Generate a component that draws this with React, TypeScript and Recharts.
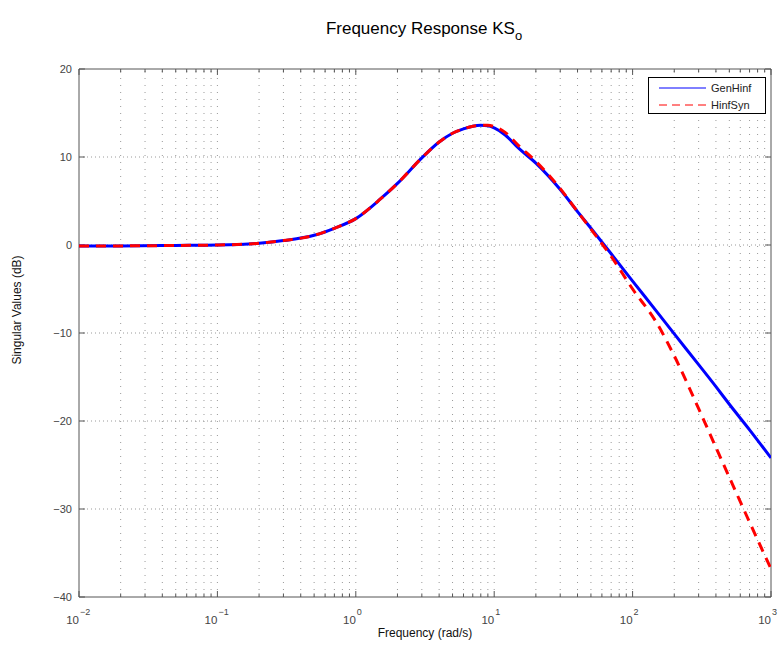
import React from "react";
import {
  LineChart,
  Line,
  XAxis,
  YAxis,
  ReferenceLine,
  ReferenceArea,
  Legend,
} from "recharts";

// Frequencies (rad/s)
const freqs = [
  0.01, 0.02, 0.05, 0.1, 0.2, 0.3, 0.5, 0.7, 1, 1.5, 2, 3, 4, 5, 6, 7, 8, 9, 10,
  12, 15, 20, 30, 40, 50, 70, 100, 150, 200, 300, 400, 500, 700, 1000,
];
// Singular values (dB)
const genHinf = [
  -0.1, -0.1, -0.05, 0.0, 0.2, 0.5, 1.1, 1.9, 3.0, 5.2, 7.0, 9.9, 11.7, 12.7,
  13.2, 13.5, 13.6, 13.55, 13.3, 12.5, 11.0, 9.3, 6.3, 3.8, 1.9, -1.0, -4.1,
  -7.6, -10.1, -13.6, -16.1, -18.1, -21.0, -24.2,
];
const hinfSyn = [
  -0.1, -0.1, -0.05, 0.0, 0.2, 0.5, 1.1, 1.9, 3.0, 5.2, 7.0, 9.9, 11.7, 12.7,
  13.2, 13.5, 13.6, 13.6, 13.45, 12.8, 11.3, 9.5, 6.4, 3.8, 1.8, -1.3, -5.0,
  -8.9, -12.6, -18.6, -23.0, -26.4, -31.5, -36.8,
];

const xTickExps = [-2, -1, 0, 1, 2, 3];
const yTicks = [-40, -30, -20, -10, 0, 10, 20];
const minorMultipliers = [2, 3, 4, 5, 6, 7, 8, 9];

const seriesNames = ["GenHinf", "HinfSyn"];

const data = freqs.map((f, i) => ({
  lf: Math.log10(f),
  gen: genHinf[i],
  syn: hinfSyn[i],
}));

const minorX: number[] = [];
xTickExps.slice(0, -1).forEach((e) =>
  minorMultipliers.forEach((m) => minorX.push(e + Math.log10(m)))
);

const FONT = "'Liberation Sans', Arial, Helvetica, sans-serif";
const AX = "#555";
const TXT = "#444";
const GRID = "#9a9a9a";

const XTick = (props: any) => {
  const { x, y, payload } = props;
  const e = payload.value as number;
  const s = e < 0 ? "\u2212" + Math.abs(e) : String(e);
  return (
    <g fontFamily={FONT} fill={TXT}>
      <text x={x} y={y + 27} textAnchor="end" fontSize={11.5}>
        10
      </text>
      <text x={x + 1} y={y + 18} textAnchor="start" fontSize={9}>
        {s}
      </text>
    </g>
  );
};

const YTick = (props: any) => {
  const { x, y, payload } = props;
  const v = payload.value as number;
  const s = v < 0 ? "\u2212" + Math.abs(v) : String(v);
  return (
    <text
      x={x}
      y={y + 4}
      textAnchor="end"
      fontSize={11}
      fontFamily={FONT}
      fill={TXT}
    >
      {s}
    </text>
  );
};

const renderLegend = () => (
  <div
    style={{
      width: 116,
      height: 35,
      border: "1px solid #000",
      background: "#fff",
      fontFamily: FONT,
      fontSize: 11,
      color: "#222",
      boxSizing: "content-box",
      position: "relative",
    }}
  >
    <svg width={116} height={35} style={{ position: "absolute", left: 0, top: 0 }}>
      <line x1={10} y1={10} x2={57} y2={10} stroke="#0000ff" strokeWidth={1} />
      <line
        x1={10}
        y1={27}
        x2={57}
        y2={27}
        stroke="#ff0000"
        strokeWidth={1}
        strokeDasharray="8 5"
      />
      <text x={62} y={14} fontSize={11} fontFamily={FONT} fill="#222">
        {seriesNames[0]}
      </text>
      <text x={62} y={31} fontSize={11} fontFamily={FONT} fill="#222">
        {seriesNames[1]}
      </text>
    </svg>
  </div>
);

const MAJ_V = 0.68; // dB length of tick on x axes
const MIN_V = 0.4;
const MAJ_H = 0.043; // decades length of tick on y axes

export default function App() {
  return (
    <div
      style={{
        position: "absolute",
        left: 0,
        top: 0,
        width: 784,
        height: 646,
        background: "#fff",
        fontFamily: FONT,
      }}
    >
      <div
        style={{
          position: "absolute",
          left: 0,
          width: 784,
          top: 19,
          textAlign: "center",
          paddingLeft: 64,
          boxSizing: "border-box",
          fontSize: 17,
          color: "#000",
          whiteSpace: "nowrap",
        }}
      >
        Frequency Response KS
        <span style={{ fontSize: 13, position: "relative", top: 6 }}>o</span>
      </div>
      <div
        style={{
          position: "absolute",
          left: 17 - 100,
          top: 310 - 8,
          width: 200,
          textAlign: "center",
          transform: "rotate(-90deg)",
          fontSize: 12,
          color: "#111",
          lineHeight: "16px",
        }}
      >
        Singular Values (dB)
      </div>
      <div
        style={{
          position: "absolute",
          left: 425 - 100,
          top: 625,
          width: 200,
          textAlign: "center",
          fontSize: 12,
          color: "#111",
          lineHeight: "16px",
        }}
      >
        Frequency (rad/s)
      </div>
      <LineChart
        width={784}
        height={646}
        data={data}
        margin={{ top: 69, right: 13, left: 39, bottom: 19 }}
        style={{ position: "absolute", left: 0, top: 0 }}
      >
        <XAxis
          dataKey="lf"
          type="number"
          domain={[-2, 3]}
          ticks={xTickExps}
          tick={<XTick />}
          tickLine={false}
          tickSize={0}
          tickMargin={0}
          axisLine={false}
          height={30}
          allowDataOverflow
          interval={0}
        />
        <YAxis
          type="number"
          domain={[-40, 20]}
          ticks={yTicks}
          tick={<YTick />}
          tickLine={false}
          tickSize={0}
          tickMargin={7}
          axisLine={false}
          width={40}
          allowDataOverflow
          interval={0}
        />
        {/* grid */}
        {minorX.map((v) => (
          <ReferenceLine
            key={"mx" + v}
            x={v}
            stroke={GRID}
            strokeWidth={1}
            strokeDasharray="1 6"
          />
        ))}
        {xTickExps.slice(1, -1).map((v) => (
          <ReferenceLine
            key={"Mx" + v}
            x={v}
            stroke={GRID}
            strokeWidth={1}
            strokeDasharray="1 6"
          />
        ))}
        {yTicks.slice(1, -1).map((v) => (
          <ReferenceLine
            key={"My" + v}
            y={v}
            stroke={GRID}
            strokeWidth={1}
            strokeDasharray="1 3"
          />
        ))}
        {/* inward tick marks */}
        {minorX.map((v) => (
          <ReferenceLine
            key={"tb" + v}
            segment={[
              { x: v, y: -40 },
              { x: v, y: -40 + MIN_V },
            ]}
            stroke={AX}
          />
        ))}
        {minorX.map((v) => (
          <ReferenceLine
            key={"tt" + v}
            segment={[
              { x: v, y: 20 },
              { x: v, y: 20 - MIN_V },
            ]}
            stroke={AX}
          />
        ))}
        {xTickExps.map((v) => (
          <ReferenceLine
            key={"Tb" + v}
            segment={[
              { x: v, y: -40 },
              { x: v, y: -40 + MAJ_V },
            ]}
            stroke={AX}
          />
        ))}
        {xTickExps.map((v) => (
          <ReferenceLine
            key={"Tt" + v}
            segment={[
              { x: v, y: 20 },
              { x: v, y: 20 - MAJ_V },
            ]}
            stroke={AX}
          />
        ))}
        {yTicks.map((v) => (
          <ReferenceLine
            key={"Tl" + v}
            segment={[
              { x: -2, y: v },
              { x: -2 + MAJ_H, y: v },
            ]}
            stroke={AX}
          />
        ))}
        {yTicks.map((v) => (
          <ReferenceLine
            key={"Tr" + v}
            segment={[
              { x: 3, y: v },
              { x: 3 - MAJ_H, y: v },
            ]}
            stroke={AX}
          />
        ))}
        <Line
          type="monotone"
          dataKey="gen"
          name={seriesNames[0]}
          stroke="#0000ff"
          strokeWidth={3}
          dot={false}
          isAnimationActive={false}
        />
        <Line
          type="monotone"
          dataKey="syn"
          name={seriesNames[1]}
          stroke="#ff0000"
          strokeWidth={3}
          strokeDasharray="10 7"
          dot={false}
          isAnimationActive={false}
        />
        <ReferenceArea
          x1={-2}
          x2={3}
          y1={-40}
          y2={20}
          fill="none"
          fillOpacity={0}
          stroke={AX}
          strokeWidth={1}
          ifOverflow="visible"
        />
        <Legend
          content={renderLegend}
          layout="horizontal"
          verticalAlign="middle"
          wrapperStyle={{
            position: "absolute",
            left: 648,
            top: 77,
            width: 118,
            height: 37,
          }}
        />
      </LineChart>
    </div>
  );
}
